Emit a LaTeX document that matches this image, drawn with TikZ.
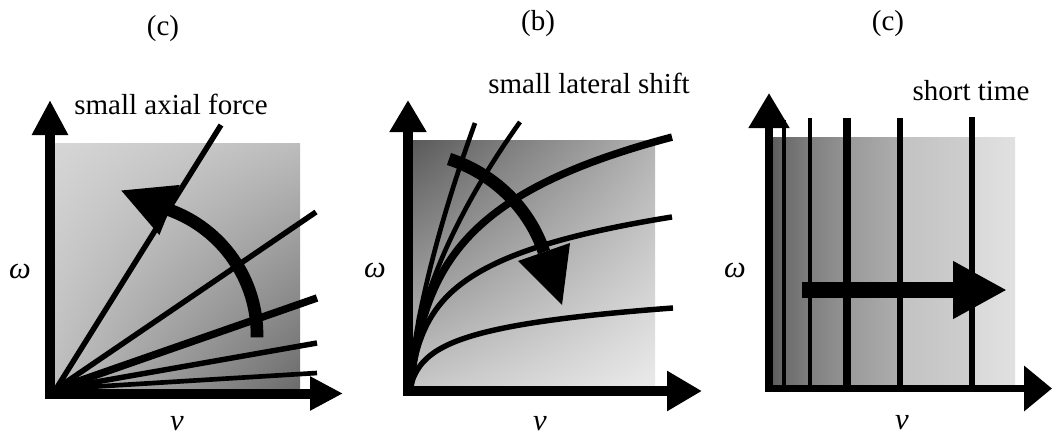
\documentclass[tikz,border=0pt]{standalone}
\usepackage{fontspec}
\setmainfont{Liberation Serif}
\usetikzlibrary{arrows.meta,calc,shadings}
\begin{document}
\begin{tikzpicture}[x=0.75pt,y=-0.75pt,
  lbl/.style={font=\fontsize{21.75pt}{26pt}\selectfont, inner sep=0pt, anchor=base},
  sym/.style={font=\fontsize{23pt}{26pt}\selectfont\itshape, inner sep=0pt, anchor=center},
  axis/.style={line width=7.5pt},
  thin/.style={line width=3.5pt},
  mid/.style={line width=4.1pt},
  thick/.style={line width=5.6pt},
  bigarrow/.style={line width=9.5pt}
]
\useasboundingbox (0,0) rectangle (1052,439);

% ---------------- panel 1 ----------------
\shade[upper left=black!16, upper right=black!26, lower left=black!26, lower right=black!58] (55,143) rectangle (300,388);
\coordinate (O1) at (56,389);
\coordinate (a1) at (221,125);
\coordinate (a2) at (316,212);
\coordinate (a3) at (317,298);
\coordinate (a4) at (317,343);
\coordinate (a5) at (317,373);
\draw[mid] (O1) -- (a1);
\draw[mid] (O1) -- (a2);
\draw[thick] (O1) -- (a3);
\draw[mid] (O1) -- (a4);
\draw[thin] (O1) -- (a5);
\draw[bigarrow] (257,337.3) arc[start angle=1, end angle=-70, radius=133] coordinate (E1);
\fill ($(E1)+(-158:52)$) -- ($(E1)+(-68:27)$) -- ($(E1)+(112:27)$) -- cycle;
\draw[axis, -{Triangle[length=26.25pt,width=25.5pt]}] (50,399) -- (50,100);
\draw[axis, -{Triangle[length=24.75pt,width=24pt]}] (45,393.5) -- (343,393.5);

% ---------------- panel 2 ----------------
\shade[upper left=black!65, upper right=black!30, lower left=black!22, lower right=black!8] (410,140) rectangle (655,388);
\draw[thin] (410,388) -- plot[domain=0.3:65, samples=70, smooth] ({410+\x}, {388-265*(\x/65)^0.68});
\draw[thin] (410,388) -- plot[domain=0.3:110, samples=70, smooth] ({410+\x}, {388-266*(\x/110)^0.58});
\draw[thick] plot[domain=0:262, samples=80, smooth] ({410+\x}, {388-71.3*ln(1+\x/8)});
\draw[mid] plot[domain=0:262, samples=80, smooth] ({410+\x}, {388-43*ln(1+\x/5)});
\draw[mid] plot[domain=0:263, samples=80, smooth] ({410+\x}, {388-20.1*ln(1+\x/5)});
\draw[bigarrow] (449,159) .. controls (493.5,173.5) and (529,207.5) .. (544,252) coordinate (E2);
\fill (562,305) -- (570,243) -- (518,261) -- cycle;
\draw[axis, -{Triangle[length=24pt,width=26.25pt]}] (408,396) -- (408,100);
\draw[axis, -{Triangle[length=26.25pt,width=28.5pt]}] (403,391) -- (702,391);

% ---------------- panel 3 ----------------
\shade[left color=black!65, right color=black!58] (770,137) rectangle (784,385);
\shade[left color=black!58, right color=black!50] (784,137) rectangle (810,385);
\shade[left color=black!50, right color=black!42] (810,137) rectangle (847,385);
\shade[left color=black!40, right color=black!32] (847,137) rectangle (900,385);
\shade[left color=black!24, right color=black!19] (900,137) rectangle (972,385);
\shade[left color=black!15, right color=black!12] (972,137) rectangle (1015,385);
\coordinate (b1) at (784,120);
\coordinate (b2) at (810,118);
\coordinate (b3) at (847,118);
\coordinate (b4) at (900,118);
\coordinate (b5) at (972,117);
\draw[thin] (b1) -- (784,388);
\draw[thin] (b2) -- (810,388);
\draw[thick] (b3) -- (847,388);
\draw[mid] (b4) -- (900,388);
\draw[mid] (b5) -- (972,388);
\draw[line width=12pt, -{Triangle[length=40.5pt,width=40.5pt]}] (802,290) -- (1007,290);
\draw[line width=6pt, -{Triangle[length=26.25pt,width=29.25pt]}] (769,392) -- (769,93);
\draw[line width=5.5pt, -{Triangle[length=21pt,width=33pt]}] (765,388.5) -- (1052,388.5);

% ---------------- texts ----------------
\node[lbl] (t1) at (163,36) {(c)};
\node[lbl] (t2) at (538,31) {(b)};
\node[lbl] (t3) at (888,30) {(c)};
\node[lbl] (s1) at (171,114) {small axial force};
\node[lbl] (s2) at (589,93) {small lateral shift};
\node[lbl] (s3) at (971,100) {short time};
\node[sym] (w1) at (20,271) {ω};
\node[sym] (w2) at (375,270) {ω};
\node[sym] (w3) at (735,270) {ω};
\node[sym] (v1) at (177,424) {v};
\node[sym] (v2) at (540,424) {v};
\node[sym] (v3) at (902,423) {v};
\end{tikzpicture}
\end{document}
